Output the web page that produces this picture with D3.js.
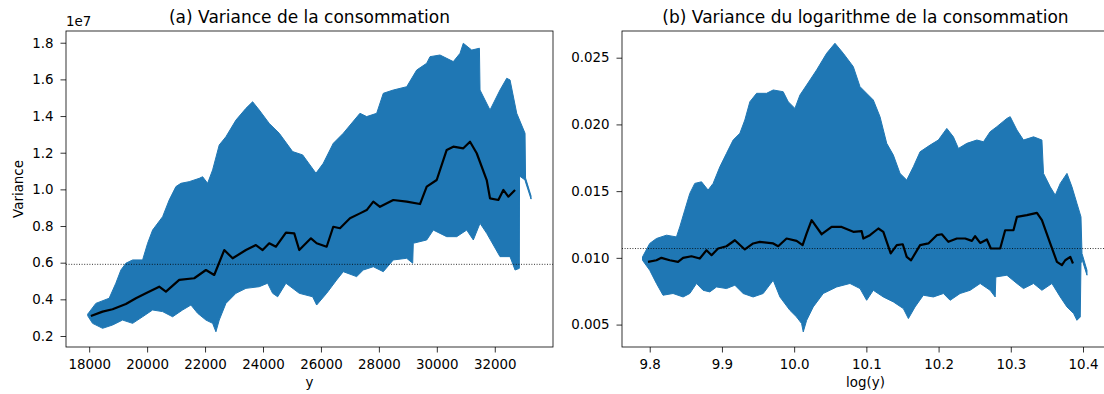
<!DOCTYPE html>
<html>
<head>
<meta charset="utf-8">
<script src="https://cdn.jsdelivr.net/npm/d3@7/dist/d3.min.js"></script>
<style>
  html, body { margin: 0; padding: 0; background: #fff; }
  svg { display: block; font-family: "DejaVu Sans", sans-serif; }
</style>
</head>
<body>
<svg id="fig" width="1104" height="394"></svg>
<script>
// ---- (a) variance of consumption, values in units of 1e7 ----
const consUpper = [[17950,0.32],[18000,0.33],[18230,0.378],[18690,0.406],[18920,0.488],[19095,0.56],[19267,0.597],[19500,0.615],[19844,0.615],[20017,0.706],[20189,0.778],[20535,0.851],[20762,0.942],[20994,1.015],[21166,1.033],[21453,1.042],[21798,1.06],[21916,1.069],[22088,1.033],[22261,1.106],[22489,1.242],[22720,1.287],[23066,1.378],[23411,1.442],[23642,1.478],[23870,1.433],[24215,1.36],[24561,1.306],[25023,1.206],[25369,1.188],[25828,1.088],[26080,1.142],[26425,1.251],[26771,1.306],[27347,1.415],[27579,1.397],[27924,1.415],[28152,1.524],[28497,1.542],[28960,1.56],[29305,1.651],[29651,1.688],[29765,1.724],[30110,1.733],[30569,1.697],[30800,1.742],[30914,1.797],[31204,1.76],[31470,1.77],[31491,1.542],[31836,1.433],[32181,1.542],[32413,1.606],[32527,1.597],[32758,1.415],[33045,1.306],[33062,1.062],[33252,0.964]];
const consLower = [[17950,0.31],[18117,0.269],[18463,0.242],[18808,0.26],[19153,0.287],[19499,0.269],[19844,0.305],[20189,0.342],[20535,0.333],[20880,0.305],[21225,0.342],[21512,0.369],[21743,0.324],[22030,0.287],[22261,0.269],[22375,0.223],[22489,0.287],[22720,0.378],[23066,0.433],[23411,0.46],[23870,0.469],[24160,0.488],[24333,0.433],[24506,0.414],[24792,0.488],[25251,0.433],[25714,0.414],[25852,0.369],[26197,0.433],[26543,0.506],[26771,0.551],[27233,0.524],[27461,0.56],[27807,0.578],[28152,0.551],[28497,0.615],[28960,0.624],[29167,0.597],[29188,0.706],[29651,0.724],[29879,0.778],[30341,0.742],[30686,0.742],[31032,0.778],[31260,0.724],[31491,0.815],[31722,0.76],[32181,0.633],[32527,0.633],[32700,0.56],[32848,0.569],[32855,1.073],[33045,1.051],[33062,1.04],[33252,0.947]];
const consMean = [[18059,0.309],[18463,0.333],[18808,0.346],[19267,0.375],[19613,0.406],[19958,0.433],[20417,0.469],[20649,0.442],[21108,0.506],[21626,0.515],[22030,0.56],[22316,0.533],[22662,0.669],[22952,0.624],[23411,0.669],[23756,0.696],[23988,0.669],[24215,0.706],[24447,0.687],[24792,0.764],[25079,0.76],[25251,0.669],[25655,0.733],[25852,0.706],[26197,0.687],[26425,0.796],[26657,0.788],[27002,0.842],[27347,0.869],[27579,0.887],[27807,0.933],[28038,0.905],[28497,0.942],[28960,0.933],[29419,0.92],[29651,1.015],[29996,1.051],[30341,1.215],[30569,1.233],[30914,1.224],[31146,1.26],[31377,1.197],[31722,1.051],[31836,0.951],[32123,0.942],[32296,0.997],[32468,0.96],[32700,0.997]];
const consOverall = 0.591;
const consXTicks = [18000,20000,22000,24000,26000,28000,30000,32000];
const consYTicks = [0.2,0.4,0.6,0.8,1.0,1.2,1.4,1.6,1.8];

// ---- (b) variance of log consumption ----
const logUpper = [[9.790,0.01007],[9.800,0.01108],[9.8093,0.01145],[9.8232,0.0117],[9.837,0.01157],[9.8416,0.01232],[9.8485,0.01357],[9.8555,0.01483],[9.8624,0.01558],[9.8717,0.0157],[9.8808,0.01508],[9.8878,0.01558],[9.8971,0.01682],[9.9063,0.01783],[9.9155,0.01883],[9.9248,0.01933],[9.9317,0.02033],[9.9387,0.0217],[9.948,0.02233],[9.9618,0.02233],[9.971,0.02258],[9.9848,0.02245],[9.9918,0.0217],[10.0011,0.0212],[10.008,0.0222],[10.0173,0.02295],[10.0311,0.02408],[10.045,0.02533],[10.0565,0.02608],[10.068,0.02533],[10.0819,0.02433],[10.0912,0.02283],[10.1096,0.02183],[10.1189,0.02058],[10.1282,0.01858],[10.1374,0.0177],[10.1466,0.01633],[10.1559,0.01583],[10.1651,0.01683],[10.1744,0.01795],[10.1882,0.01845],[10.1997,0.01883],[10.2114,0.0197],[10.2205,0.01907],[10.2275,0.0182],[10.2391,0.01858],[10.253,0.01883],[10.2622,0.0187],[10.2714,0.01945],[10.2807,0.01983],[10.2946,0.02045],[10.2992,0.02058],[10.3085,0.01958],[10.3176,0.01883],[10.3315,0.01907],[10.3431,0.01883],[10.3453,0.01633],[10.3546,0.01532],[10.3616,0.0147],[10.3685,0.01558],[10.3778,0.01633],[10.3847,0.01532],[10.3916,0.01408],[10.3972,0.01307],[10.3986,0.01033],[10.4055,0.00907]];
const logLower = [[9.790,0.00982],[9.800,0.00907],[9.8093,0.00808],[9.8184,0.0072],[9.8323,0.00733],[9.8462,0.00707],[9.8555,0.00733],[9.8648,0.00808],[9.8739,0.00757],[9.8832,0.00745],[9.8925,0.00782],[9.9063,0.0077],[9.9179,0.00795],[9.9294,0.00733],[9.9432,0.00707],[9.9571,0.00733],[9.971,0.00832],[9.9803,0.00707],[9.9941,0.00607],[10.0034,0.00557],[10.0103,0.00508],[10.0126,0.00445],[10.0173,0.00532],[10.0264,0.00632],[10.0403,0.00733],[10.0589,0.00782],[10.0773,0.00808],[10.0912,0.0077],[10.1004,0.00682],[10.1096,0.00757],[10.1235,0.00707],[10.1374,0.0067],[10.1512,0.0062],[10.1582,0.00545],[10.1674,0.00632],[10.1789,0.0072],[10.1928,0.00707],[10.2067,0.00733],[10.216,0.00682],[10.2298,0.00733],[10.2437,0.00757],[10.2576,0.00808],[10.2714,0.00757],[10.2784,0.00707],[10.2793,0.00857],[10.2946,0.0087],[10.3085,0.00808],[10.3176,0.0077],[10.3315,0.00808],[10.3431,0.00757],[10.357,0.00808],[10.3685,0.00707],[10.3778,0.00632],[10.387,0.00583],[10.3916,0.00532],[10.3962,0.00557],[10.3972,0.00958],[10.3986,0.0099],[10.4055,0.0087]];
const logMean = [[9.7976,0.0097],[9.8093,0.00982],[9.8162,0.01],[9.8277,0.00982],[9.8392,0.0097],[9.8462,0.01],[9.8578,0.01012],[9.8693,0.00995],[9.8786,0.01057],[9.8856,0.0102],[9.8947,0.0107],[9.9063,0.01087],[9.9179,0.01132],[9.9317,0.01063],[9.9432,0.01108],[9.9525,0.0112],[9.971,0.01108],[9.9779,0.01087],[9.9895,0.01145],[10.0034,0.01127],[10.0117,0.01095],[10.0173,0.01183],[10.0242,0.01282],[10.0381,0.01177],[10.0519,0.01232],[10.0658,0.01232],[10.0819,0.01195],[10.0935,0.012],[10.0958,0.01145],[10.105,0.0117],[10.1166,0.0122],[10.1235,0.01195],[10.1337,0.01033],[10.1421,0.01095],[10.1504,0.01102],[10.1559,0.01007],[10.1619,0.00982],[10.1744,0.01095],[10.1859,0.01108],[10.1975,0.0117],[10.2045,0.01177],[10.2136,0.0112],[10.2253,0.01145],[10.2368,0.01145],[10.2461,0.01127],[10.2506,0.01162],[10.2576,0.01112],[10.2669,0.01138],[10.2724,0.0107],[10.2853,0.0107],[10.2922,0.01207],[10.3037,0.01207],[10.3085,0.01307],[10.3223,0.0132],[10.3362,0.01337],[10.3431,0.01282],[10.3546,0.01108],[10.3639,0.0097],[10.3708,0.00945],[10.3754,0.00982],[10.3824,0.01007],[10.3861,0.00958]];
const logOverall = 0.0107;
const logXTicks = [9.8,9.9,10.0,10.1,10.2,10.3,10.4];
const logYTicks = [0.005,0.010,0.015,0.020,0.025];

const BLUE = "#1f77b4";
const svg = d3.select("#fig");
const FS = 13.4;      // tick and axis-label size
const TITLE_FS = 17;  // panel titles

function panel(o) {
  const x = d3.scaleLinear().domain(o.xDomain).range([o.left, o.right]);
  const y = d3.scaleLinear().domain(o.yDomain).range([o.bottom, o.top]);
  const g = svg.append("g");

  const clipId = "clip-" + o.id;
  svg.append("clipPath").attr("id", clipId).append("rect")
    .attr("x", o.left).attr("y", o.top)
    .attr("width", o.right - o.left).attr("height", o.bottom - o.top);
  const plot = g.append("g").attr("clip-path", `url(#${clipId})`);

  const line = d3.line().x(d => x(d[0])).y(d => y(d[1]));

  // confidence band: upper edge forward, lower edge back
  const ring = o.upper.concat(o.lower.slice().reverse());
  plot.append("path")
    .attr("d", line(ring) + "Z")
    .attr("fill", BLUE).attr("stroke", BLUE).attr("stroke-width", 1)
    .attr("stroke-linejoin", "round");

  // mean curve
  plot.append("path")
    .attr("d", line(o.mean))
    .attr("fill", "none").attr("stroke", "#000").attr("stroke-width", 2.2)
    .attr("stroke-linejoin", "round");

  // whole-sample reference level
  plot.append("line")
    .attr("x1", o.left).attr("x2", o.right)
    .attr("y1", y(o.overall)).attr("y2", y(o.overall))
    .attr("stroke", "#000").attr("stroke-width", 0.8)
    .attr("stroke-dasharray", "1,1.6");

  // axes
  const xAxis = d3.axisBottom(x).tickValues(o.xTicks).tickFormat(o.xFmt)
    .tickSize(5.5).tickPadding(7);
  const yAxis = d3.axisLeft(y).tickValues(o.yTicks).tickFormat(o.yFmt)
    .tickSize(5.5).tickPadding(7);
  const gx = g.append("g").attr("transform", `translate(0,${o.bottom})`).call(xAxis);
  const gy = g.append("g").attr("transform", `translate(${o.left},0)`).call(yAxis);
  [gx, gy].forEach(a => {
    a.select(".domain").remove();
    a.selectAll("line").attr("stroke", "#000").attr("stroke-width", 0.8);
    a.selectAll("text").attr("font-size", FS).attr("fill", "#000")
      .attr("font-family", "DejaVu Sans, sans-serif");
  });

  // frame
  g.append("rect")
    .attr("x", o.left).attr("y", o.top)
    .attr("width", o.right - o.left).attr("height", o.bottom - o.top)
    .attr("fill", "none").attr("stroke", "#000").attr("stroke-width", 0.8);

  // title and labels
  g.append("text").attr("x", (o.left + o.right) / 2).attr("y", 23)
    .attr("text-anchor", "middle").attr("font-size", TITLE_FS).text(o.title);
  g.append("text").attr("x", (o.left + o.right) / 2).attr("y", 387)
    .attr("text-anchor", "middle").attr("font-size", FS).text(o.xLabel);
  if (o.yLabel) {
    g.append("text")
      .attr("transform", `translate(23,${(o.top + o.bottom) / 2}) rotate(-90)`)
      .attr("text-anchor", "middle").attr("font-size", FS).text(o.yLabel);
  }
  if (o.offset) {
    g.append("text").attr("x", o.left).attr("y", 26)
      .attr("font-size", FS).text(o.offset);
  }
}

panel({
  id: "a", left: 66, right: 553, top: 31, bottom: 347,
  xDomain: [17200, 34010], yDomain: [0.14, 1.864],
  upper: consUpper, lower: consLower, mean: consMean, overall: consOverall,
  xTicks: consXTicks, yTicks: consYTicks,
  xFmt: d3.format("d"), yFmt: d3.format(".1f"),
  title: "(a) Variance de la consommation", xLabel: "y", yLabel: "Variance", offset: "1e7"
});

panel({
  id: "b", left: 622, right: 1109, top: 31, bottom: 347,
  xDomain: [9.7616, 10.436], yDomain: [0.00332, 0.0270],
  upper: logUpper, lower: logLower, mean: logMean, overall: logOverall,
  xTicks: logXTicks, yTicks: logYTicks,
  xFmt: d3.format(".1f"), yFmt: d3.format(".3f"),
  title: "(b) Variance du logarithme de la consommation", xLabel: "log(y)"
});
</script>
</body>
</html>
